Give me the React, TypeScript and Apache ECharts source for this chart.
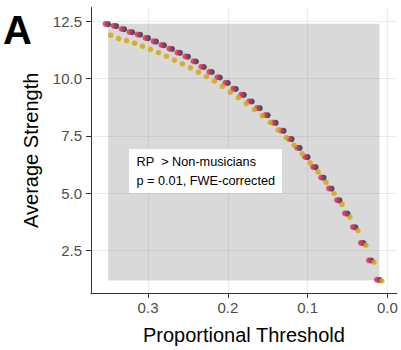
import React, { useEffect, useRef } from "react";
import * as echarts from "echarts";

const thresholds = [
  0.35, 0.34, 0.33, 0.32, 0.31, 0.3, 0.29, 0.28, 0.27, 0.26, 0.25, 0.24,
  0.23, 0.22, 0.21, 0.2, 0.19, 0.18, 0.17, 0.16, 0.15, 0.14, 0.13, 0.12,
  0.11, 0.1, 0.09, 0.08, 0.07, 0.06, 0.05, 0.04, 0.03, 0.02, 0.01,
];

const rpValues = [
  12.39, 12.31, 12.17, 12.04, 11.93, 11.78, 11.63, 11.47, 11.31, 11.14, 10.97,
  10.76, 10.52, 10.3, 10.06, 9.82, 9.56, 9.3, 9.01, 8.72, 8.41, 8.08, 7.73,
  7.37, 6.98, 6.58, 6.14, 5.68, 5.2, 4.69, 4.11, 3.51, 2.82, 2.06, 1.21,
];

const navyValues = [
  12.38, 12.3, 12.16, 12.03, 11.92, 11.77, 11.62, 11.46, 11.3, 11.13, 10.96,
  10.75, 10.51, 10.29, 10.05, 9.81, 9.55, 9.29, 9.0, 8.71, 8.4, 8.07, 7.72,
  7.36, 6.97, 6.57, 6.13, 5.67, 5.19, 4.68, 4.1, 3.5, 2.81, 2.05, 1.2,
];

const nmValues = [
  11.9, 11.75, 11.66, 11.55, 11.42, 11.28, 11.14, 10.98, 10.81, 10.65, 10.47,
  10.28, 10.09, 9.89, 9.66, 9.41, 9.17, 8.91, 8.65, 8.38, 8.09, 7.76, 7.43,
  7.09, 6.72, 6.32, 5.92, 5.47, 4.99, 4.5, 3.95, 3.36, 2.72, 1.98, 1.16,
];

const xTicks = [0, 0.1, 0.2, 0.3];
const yTicks = [2.5, 5.0, 7.5, 10.0, 12.5];
const sigX = [0.35, 0.01];
const sigY = [1.18, 12.4];
const annotationLines = ["RP\u00a0 > Non-musicians", "p = 0.01, FWE-corrected"];

const FONT = "Liberation Sans, Arial, sans-serif";

export default function App() {
  const ref = useRef<HTMLDivElement>(null);

  useEffect(() => {
    if (!ref.current) return;
    const chart = echarts.init(ref.current, undefined, { renderer: "svg" });

    const toData = (vals: number[]) => thresholds.map((t, i) => [t, vals[i]]);

    const option: any = {
      animation: false,
      backgroundColor: "#ffffff",
      textStyle: { fontFamily: FONT },
      grid: { left: 91, right: 4, top: 7.5, bottom: 53 },
      xAxis: {
        type: "value",
        inverse: true,
        min: -0.0118,
        max: 0.3715,
        name: "Proportional Threshold",
        nameLocation: "middle",
        nameGap: 32,
        nameTextStyle: { fontSize: 20, color: "#000", fontFamily: FONT },
        axisLine: { show: true, onZero: false, lineStyle: { color: "#333", width: 1 } },
        axisTick: { show: true, length: 5, lineStyle: { color: "#333" }, customValues: xTicks },
        axisLabel: {
          fontSize: 15,
          color: "#4d4d4d",
          margin: 7,
          fontFamily: FONT,
          customValues: xTicks,
          formatter: (v: number) => v.toFixed(1),
        },
        splitLine: { show: true, lineStyle: { color: "#ebebeb", width: 1 } },
      },
      yAxis: {
        type: "value",
        min: 0.63,
        max: 13.11,
        name: "Average Strength",
        nameLocation: "middle",
        nameGap: 50,
        nameTextStyle: { fontSize: 20, color: "#000", fontFamily: FONT },
        axisLine: { show: true, onZero: false, lineStyle: { color: "#333", width: 1 } },
        axisTick: { show: true, length: 5, lineStyle: { color: "#333" }, customValues: yTicks },
        axisLabel: {
          fontSize: 15,
          color: "#4d4d4d",
          margin: 9,
          fontFamily: FONT,
          customValues: yTicks,
          formatter: (v: number) => v.toFixed(1),
        },
        splitLine: { show: true, lineStyle: { color: "#ebebeb", width: 1 } },
      },
      series: [
        {
          type: "scatter",
          data: [],
          z: 1,
          silent: true,
          markArea: {
            silent: true,
            itemStyle: { color: "rgba(128,128,128,0.3)" },
            data: [[{ coord: [sigX[0], sigY[1]] }, { coord: [sigX[1], sigY[0]] }]],
          },
        },
        {
          name: "Navy",
          type: "scatter",
          data: toData(navyValues),
          symbol: "circle",
          symbolSize: 6,
          symbolOffset: [0, 0],
          itemStyle: { color: "#222a48" },
          z: 3,
        },
        {
          name: "RP",
          type: "scatter",
          data: toData(rpValues),
          symbol: "circle",
          symbolSize: 6,
          symbolOffset: [-2.5, 0],
          itemStyle: { color: "#dc2d52" },
          z: 4,
        },
        {
          name: "Non-musicians",
          type: "scatter",
          data: toData(nmValues),
          symbol: "circle",
          symbolSize: 5.5,
          symbolOffset: [2.5, 0],
          itemStyle: { color: "#d3a20a" },
          z: 5,
        },
      ],
      graphic: [
        {
          type: "text",
          left: 3,
          top: 10,
          style: {
            text: "A",
            fontSize: 40,
            fontWeight: "bold",
            fontFamily: FONT,
            fill: "#000",
          },
        },
        {
          type: "rect",
          shape: { x: 129, y: 149, width: 153, height: 44 },
          style: { fill: "#ffffff" },
          z: 10,
        },
        {
          type: "text",
          x: 136.5,
          y: 161.7,
          z: 11,
          style: {
            text: annotationLines[0],
            fontSize: 12.7,
            fontFamily: FONT,
            fill: "#000",
            verticalAlign: "middle",
          },
        },
        {
          type: "text",
          x: 136.5,
          y: 180.7,
          z: 11,
          style: {
            text: annotationLines[1],
            fontSize: 12.7,
            fontFamily: FONT,
            fill: "#000",
            verticalAlign: "middle",
          },
        },
      ],
    };

    chart.setOption(option);
    return () => chart.dispose();
  }, []);

  return <div ref={ref} style={{ width: 401, height: 350, position: "absolute", left: 0, top: 0 }} />;
}
